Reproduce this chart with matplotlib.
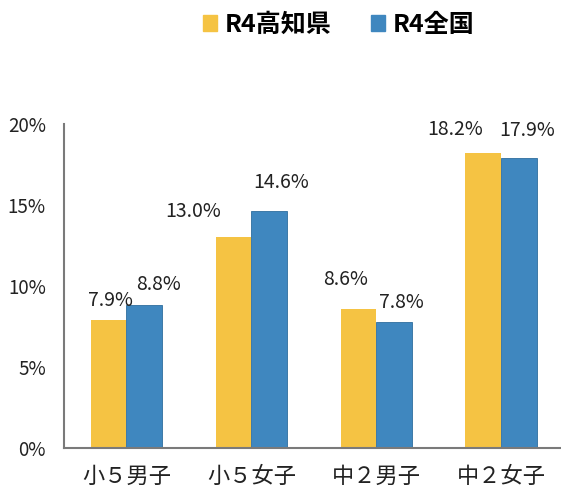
import numpy as np
import matplotlib.pyplot as plt
from matplotlib.patches import Patch

plt.rcParams['font.family'] = ['Noto Sans CJK JP', 'DejaVu Sans']

categories = ["小５男子", "小５女子", "中２男子", "中２女子"]
kochi = [7.9, 13.0, 8.6, 18.2]
zenkoku = [8.8, 14.6, 7.8, 17.9]
series_names = ["R4高知県", "R4全国"]
yticks = [0, 5, 10, 15, 20]

c_kochi = "#F5C343"
c_zen = "#3F87BF"

fig = plt.figure(figsize=(5.61, 4.97), dpi=100)
ax = fig.add_axes([64/561, 49/497, 497/561, 324/497])

x = np.arange(len(categories))
w = 0.285
b1 = ax.bar(x - w/2, kochi, w, color=c_kochi)
b2 = ax.bar(x + w/2, zenkoku, w, color=c_zen, edgecolor="#2E6E9E", linewidth=0.6)

# label offsets (points) to mimic the original placement
dx1 = [1, -29, -9, -20]
dy1 = [14, 19, 21, 17]
dx2 = [10, 9, 5, 6]
dy2 = [15, 21, 14, 20]
for i in range(len(categories)):
    ax.annotate(f"{kochi[i]:.1f}%", (x[i] - w/2, kochi[i]), xytext=(dx1[i], dy1[i]),
                textcoords="offset points", ha="center", va="center", fontsize=14, color="#222222")
    ax.annotate(f"{zenkoku[i]:.1f}%", (x[i] + w/2, zenkoku[i]), xytext=(dx2[i], dy2[i]),
                textcoords="offset points", ha="center", va="center", fontsize=14, color="#222222")

ax.set_xlim(-0.5, 3.48)
ax.set_ylim(0, 20)
ax.set_yticks(yticks)
ax.set_yticklabels([f"{t}%" for t in yticks], fontsize=13.5, color="#222222")
ax.set_xticks(x)
ax.set_xticklabels(categories, fontsize=16, color="#222222")
ax.tick_params(length=0)
ax.tick_params(axis="y", pad=13)
ax.tick_params(axis="x", pad=12)
for s in ["top", "right"]:
    ax.spines[s].set_visible(False)
for s in ["left", "bottom"]:
    ax.spines[s].set_color("#7a7a7a")
    ax.spines[s].set_linewidth(1.5)

handles = [Patch(color=c_kochi), Patch(color=c_zen)]
fig.legend(handles, series_names, loc="upper center", bbox_to_anchor=(0.604, 1.02), ncol=2,
           frameon=False, handlelength=0.56, handleheight=0.6, handletextpad=0.3,
           columnspacing=1.6, prop={"size": 18, "weight": "bold"})

fig.savefig("out.png", dpi=100)
